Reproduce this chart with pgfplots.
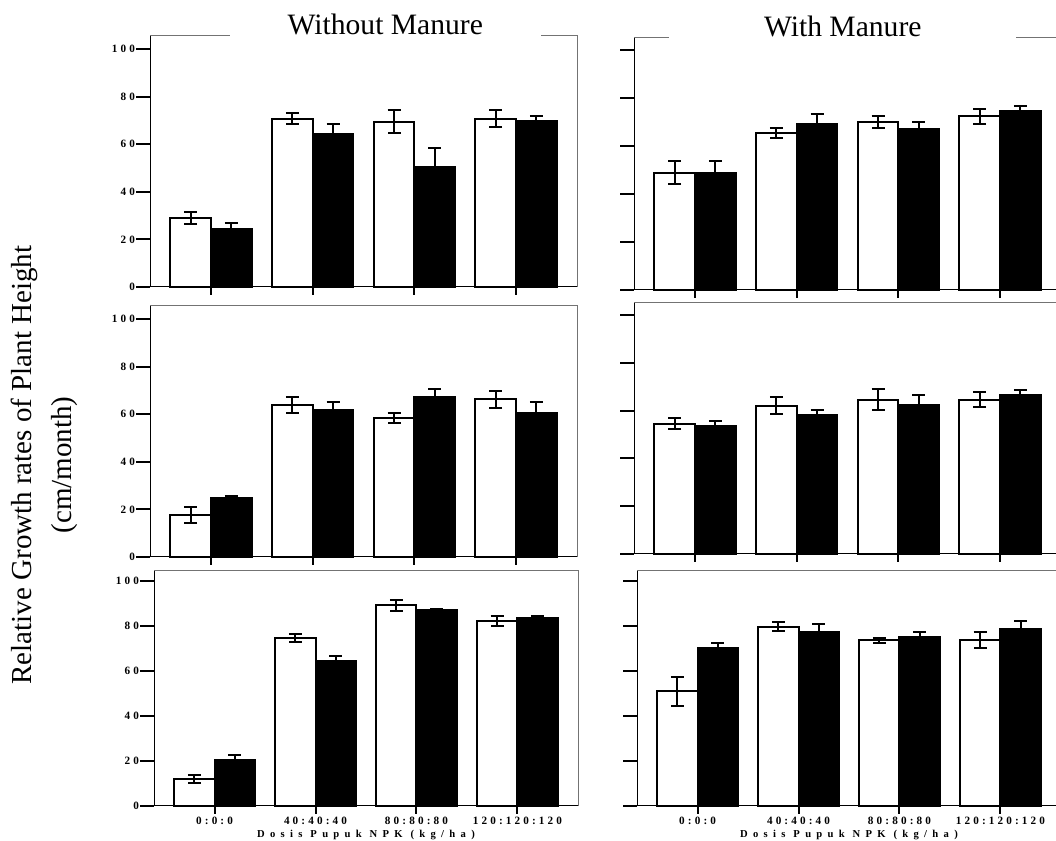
\documentclass[border=0pt]{standalone}
\usepackage{fontspec}
\setmainfont{Liberation Serif}
\newfontfamily\tickfont[LetterSpace=28]{Liberation Serif}
\newfontfamily\labfont[LetterSpace=50]{Liberation Serif}
\usepackage{pgfplots}
\usepackage{pgfplotstable}
\pgfplotsset{compat=1.18}

\pgfplotstableread{
x w we b be
0 29.0 2.4 24.5 2.3
1 70.8 2.4 64.1 4.3
2 69.4 4.8 50.5 8.0
3 70.7 3.5 69.6 2.2
}\dataTL
\pgfplotstableread{
x w we b be
0 48.9 4.7 48.9 4.7
1 65.5 2.2 69.1 4.3
2 69.9 2.4 66.9 3.3
3 72.3 3.2 74.7 2.0
}\dataTR
\pgfplotstableread{
x w we b be
0 17.7 3.5 24.7 1.1
1 63.9 3.4 61.9 3.1
2 58.4 2.1 67.4 3.4
3 66.3 3.5 60.7 4.3
}\dataML
\pgfplotstableread{
x w we b be
0 54.4 2.3 53.4 2.1
1 62.0 3.5 58.0 2.1
2 64.6 4.3 62.3 4.3
3 64.6 3.3 66.7 2.1
}\dataMR
\pgfplotstableread{
x w we b be
0 11.9 1.8 20.3 2.4
1 74.8 1.8 64.4 2.1
2 89.2 2.5 87.1 0.3
3 82.2 2.1 83.4 1.0
}\dataBL
\pgfplotstableread{
x w we b be
0 51.0 6.5 70.2 2.4
1 79.6 2.0 77.5 3.2
2 73.6 1.2 75.1 2.2
3 73.6 3.6 78.5 3.6
}\dataBR

\tikzset{framecol/.style={draw=black!55, line width=0.5pt}}
\pgfplotsset{
  panel/.style={
    scale only axis, width=213.5pt,
    xmin=-0.6, xmax=3.6, ymin=0,
    axis x line*=bottom, axis y line*=left,
    axis line style={black, line width=0.5pt, -},
    xtick={0,1,2,3}, xticklabels={},
    ytick={0,20,40,60,80,100},
    tick align=outside, major tick length=7pt,
    tick style={black, line width=1pt},
    xtick style={/pgfplots/major tick length=4pt},
    /pgf/number format/assume math mode=true,
    ticklabel style={font=\tickfont\bfseries\fontsize{5.6}{6}\selectfont},
    yticklabel style={xshift=3pt},
    xticklabel style={yshift=5pt},
    clip=false,
  },
  noylab/.style={yticklabels={}},
  wbar/.style={ybar, bar width=0.4, bar shift=0, fill=white, draw=black, line width=1pt,
    error bars/.cd, y dir=both, y explicit,
    error bar style={line width=1pt, black},
    error mark options={rotate=90, line width=1pt, mark size=3.25pt, black}},
  bbar/.style={ybar, bar width=0.4, bar shift=0, fill=black, draw=black, line width=1pt,
    error bars/.cd, y dir=both, y explicit,
    error bar style={line width=1pt, black},
    error mark options={rotate=90, line width=1pt, mark size=3.25pt, black}},
  npklab/.style={
    xticklabels={0:0:0,40:40:40,80:80:80,120:120:120},
    xlabel={Dosis Pupuk NPK (kg/ha)},
    xlabel style={font=\labfont\bfseries\fontsize{5.3}{6}\selectfont,
      at={(axis description cs:0.5,0)}, anchor=center, yshift=-14.5pt}},
}

\begin{document}
\begin{tikzpicture}
% ---------- top left
\begin{axis}[panel, at={(75pt,277pt)}, anchor=south west, height=125.5pt, ymax=105.5]
\addplot[wbar] table[x expr=\thisrow{x}-0.2, y=w, y error=we] {\dataTL};
\addplot[bbar] table[x expr=\thisrow{x}+0.2, y=b, y error=be] {\dataTL};
\draw[framecol] (rel axis cs:0,1) -- (rel axis cs:0.187,1);
\draw[framecol] (rel axis cs:0.916,1) -- (rel axis cs:1,1) -- (rel axis cs:1,0);
\node[anchor=base, font=\fontsize{14.8}{16}\selectfont, inner sep=0pt, yshift=0.5pt] at (rel axis cs:0.551,1) {Without Manure};
\end{axis}
% ---------- top right
\begin{axis}[panel, noylab, at={(317pt,275.5pt)}, anchor=south west, height=126pt, ymax=105]
\addplot[wbar] table[x expr=\thisrow{x}-0.2, y=w, y error=we] {\dataTR};
\addplot[bbar] table[x expr=\thisrow{x}+0.2, y=b, y error=be] {\dataTR};
\draw[framecol] (rel axis cs:0,1) -- (rel axis cs:0.082,1);
\draw[framecol] (rel axis cs:0.895,1) -- (rel axis cs:1,1) -- (rel axis cs:1,0);
\node[anchor=base, font=\fontsize{14.8}{16}\selectfont, inner sep=0pt, yshift=0.5pt] at (rel axis cs:0.489,1) {With Manure};
\end{axis}
% ---------- middle left
\begin{axis}[panel, at={(75pt,142pt)}, anchor=south west, height=125.5pt, ymax=105.5]
\addplot[wbar] table[x expr=\thisrow{x}-0.2, y=w, y error=we] {\dataML};
\addplot[bbar] table[x expr=\thisrow{x}+0.2, y=b, y error=be] {\dataML};
\draw[framecol] (rel axis cs:0,1) -- (rel axis cs:1,1) -- (rel axis cs:1,0);
\end{axis}
% ---------- middle right
\begin{axis}[panel, noylab, at={(317pt,143.5pt)}, anchor=south west, height=125.5pt, ymax=105]
\addplot[wbar] table[x expr=\thisrow{x}-0.2, y=w, y error=we] {\dataMR};
\addplot[bbar] table[x expr=\thisrow{x}+0.2, y=b, y error=be] {\dataMR};
\draw[framecol] (rel axis cs:0,1) -- (rel axis cs:1,1) -- (rel axis cs:1,0);
\end{axis}
% ---------- bottom left
\begin{axis}[panel, npklab, at={(77pt,17.5pt)}, anchor=south west, width=212pt, height=117.5pt, ymax=104.4]
\addplot[wbar] table[x expr=\thisrow{x}-0.2, y=w, y error=we] {\dataBL};
\addplot[bbar] table[x expr=\thisrow{x}+0.2, y=b, y error=be] {\dataBL};
\draw[framecol] (rel axis cs:0,1) -- (rel axis cs:1,1) -- (rel axis cs:1,0);
\end{axis}
% ---------- bottom right
\begin{axis}[panel, noylab, npklab, at={(318.5pt,17.5pt)}, anchor=south west, width=212pt, height=117.5pt, ymax=104.4]
\addplot[wbar] table[x expr=\thisrow{x}-0.2, y=w, y error=we] {\dataBR};
\addplot[bbar] table[x expr=\thisrow{x}+0.2, y=b, y error=be] {\dataBR};
\draw[framecol] (rel axis cs:0,1) -- (rel axis cs:1,1) -- (rel axis cs:1,0);
\end{axis}
% ---------- y label
\node[rotate=90, align=center, font=\fontsize{14.5}{20}\selectfont] at (22pt,188pt)
  {Relative Growth rates of  Plant Height\\(cm/month)};
\pgfresetboundingbox
\useasboundingbox (0,0) rectangle (528pt,420.5pt);
\end{tikzpicture}
\end{document}
